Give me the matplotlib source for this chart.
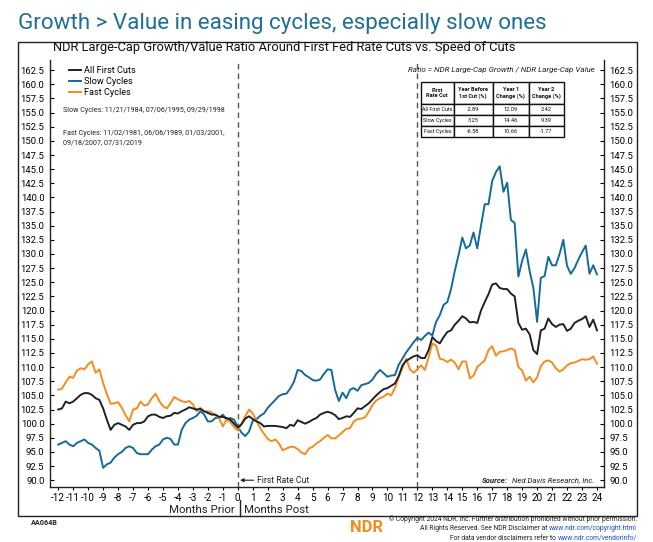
import numpy as np
import matplotlib.pyplot as plt
from matplotlib.patches import Rectangle

plt.rcParams["font.family"] = ["Roboto", "DejaVu Sans"]
plt.rcParams["axes.unicode_minus"] = False

# months around the first cut, one reading every quarter month
months = np.arange(-12, 24.01, 0.25)

all_cuts = [
    102.5, 102.7, 103.9, 103.6, 103.9, 104.5, 105.1, 105.4, 105.4, 105.1, 104.5, 104.2,
    102.7, 100.7, 98.9, 99.8, 100.1, 99.8, 99.5, 98.9, 99.8, 100.1, 100.1, 100.4,
    101.3, 101.6, 101.6, 101.2, 101.0, 101.3, 101.4, 101.9, 101.8, 102.2, 102.5, 102.9,
    102.7, 102.5, 102.6, 102.2, 101.9, 101.6, 101.6, 101.2, 101.2, 101.0, 100.7, 100.0,
    99.3,
    99.9, 100.9, 101.3, 100.8, 100.4, 100.1, 99.5, 99.6, 99.6, 99.6, 99.5, 99.4,
    99.2, 99.8, 99.6, 100.6, 100.3, 100.0, 100.3, 100.7, 101.0, 101.6, 101.9, 102.1,
    101.9, 101.5, 100.8, 101.0, 101.3, 101.2, 101.9, 102.7, 102.6, 103.1, 103.6, 104.3,
    105.0, 105.6, 106.1, 106.3, 106.7, 107.1, 108.4, 110.3, 111.1, 111.5, 111.9, 112.1,
    111.6, 111.6, 113.0, 115.3, 114.6, 114.2, 115.3, 116.2, 116.5, 117.5, 118.2, 119.0,
    118.6, 117.9, 118.0, 117.8, 120.0, 121.5, 122.9, 124.6, 124.8, 124.0, 123.8, 123.8,
    123.0, 122.5, 117.8, 116.6, 116.8, 115.8, 113.0, 112.3, 116.5, 116.8, 118.6, 117.6,
    117.1, 117.5, 117.6, 116.4, 116.8, 117.8, 118.2, 118.5, 119.0, 117.1, 118.4, 116.5,
]

slow = [
    96.3, 96.6, 96.9, 96.3, 96.0, 96.6, 96.9, 97.2, 96.6, 96.3, 95.7, 95.2,
    92.2, 92.8, 93.1, 94.0, 94.6, 95.0, 95.7, 96.0, 95.7, 94.8, 94.6, 94.6,
    94.6, 95.4, 96.0, 96.3, 97.2, 97.5, 97.3, 96.3, 96.3, 98.9, 100.1, 100.7,
    101.0, 101.4, 102.2, 101.6, 100.4, 100.4, 101.0, 101.0, 101.6, 100.7, 101.0, 100.7,
    99.5,
    98.4, 97.8, 98.6, 100.5, 100.8, 101.4, 101.8, 102.8, 103.5, 104.2, 104.9, 105.2,
    105.3, 106.2, 107.4, 109.5, 109.3, 108.6, 108.2, 107.7, 107.6, 107.8, 108.8, 109.6,
    109.5, 106.0, 104.0, 105.5, 104.5, 106.0, 106.3, 105.8, 106.8, 107.0, 107.2, 107.8,
    108.8, 109.5, 108.9, 108.3, 108.5, 108.6, 110.4, 111.5, 112.6, 113.5, 114.4, 115.2,
    114.8, 115.5, 116.1, 115.6, 118.0, 119.2, 121.0, 121.5, 123.8, 127.0, 129.8, 132.9,
    131.0, 131.5, 133.8, 131.0, 135.0, 138.8, 138.8, 142.9, 144.5, 145.5, 141.0, 142.6,
    136.0, 135.5, 126.0, 128.8, 130.8, 127.0, 124.0, 118.0, 125.8, 126.1, 129.5, 128.0,
    128.0, 130.0, 132.5, 127.9, 126.5, 127.5, 129.0, 130.3, 131.5, 126.5, 128.0, 126.4,
]

fast = [
    106.0, 106.2, 107.3, 108.3, 108.1, 109.4, 109.8, 109.6, 110.5, 111.0, 109.0, 109.6,
    107.2, 105.2, 103.5, 103.6, 103.8, 102.8, 101.5, 100.4, 102.5, 102.7, 103.9, 103.2,
    103.4, 104.5, 105.3, 104.0, 103.1, 102.7, 103.6, 104.7, 104.3, 104.0, 103.8, 104.0,
    103.4, 102.2, 102.8, 102.1, 102.2, 102.0, 101.5, 100.9, 99.5, 100.7, 100.3, 99.4,
    98.8,
    100.0, 101.3, 102.5, 101.8, 100.5, 99.2, 98.2, 97.3, 96.9, 97.2, 96.5, 95.3,
    95.6, 95.9, 95.9, 95.5, 94.9, 94.6, 95.6, 95.9, 96.5, 96.9, 97.5, 98.0,
    97.4, 97.4, 97.9, 98.5, 99.1, 99.2, 100.4, 100.8, 100.9, 101.1, 102.1, 103.3,
    104.1, 104.5, 104.8, 105.3, 105.0, 106.3, 108.2, 109.8, 111.5, 109.6, 109.0, 109.6,
    110.3, 109.5, 111.7, 114.2, 113.8, 111.5, 111.3, 110.9, 111.3, 110.8, 109.6, 111.0,
    111.0, 108.0, 108.5, 110.0, 110.6, 111.2, 113.0, 113.7, 112.0, 112.7, 112.8, 113.0,
    113.3, 113.0, 110.0, 109.4, 107.6, 108.3, 107.3, 108.2, 110.2, 111.0, 111.2, 110.8,
    109.8, 109.2, 109.6, 110.3, 110.7, 110.8, 111.1, 111.4, 111.3, 111.4, 111.9, 110.6,
]

series_names = ["All First Cuts", "Slow Cycles", "Fast Cycles"]
series_colors = ["#1e2328", "#17699a", "#f68b1f"]

table_header = ["First\nRate Cut", "Year Before\n1st Cut (%)", "Year 1\nChange (%)", "Year 2\nChange (%)"]
table_rows = [
    ["All First Cuts", "-2.89", "12.09", "2.42"],
    ["Slow Cycles", "3.25", "14.46", "9.39"],
    ["Fast Cycles", "-6.58", "10.66", "-1.77"],
]

y_ticks = np.arange(90, 163, 2.5)
x_ticks = list(range(-12, 25))

fig = plt.figure(figsize=(6.53, 5.42), dpi=100)
W, H = 653, 542
dark = "#222222"

# outer frame
fig.patches.append(Rectangle((18 / W, 1 - 516 / H), 619 / W, 474 / H, transform=fig.transFigure,
                             fill=False, edgecolor=dark, linewidth=1.0))

fig.text(18 / W, 1 - 23 / H, "Growth > Value in easing cycles, especially slow ones",
         fontsize=16.1, color="#1f6e96", va="center", ha="left")
fig.text(53 / W, 1 - 48 / H, "NDR Large-Cap Growth/Value Ratio Around First Fed Rate Cuts vs. Speed of Cuts",
         fontsize=9.3, color="#111111", va="center", ha="left")

ax = fig.add_axes([50 / W, 1 - 487 / H, 554 / W, 427 / H])
for vals, name, col in zip([all_cuts, slow, fast], series_names, series_colors):
    ax.plot(months, vals, color=col, linewidth=1.4, label=name)
ax.lines[0].set_zorder(3)

ax.axvline(0, color="#555555", linewidth=1.0, linestyle=(0, (4, 3)), zorder=1)
ax.axvline(12, color="#555555", linewidth=1.0, linestyle=(0, (4, 3)), zorder=1)

ax.set_xlim(-12.55, 24.47)
ax.set_ylim(88.8, 164.3)
ax.set_yticks(y_ticks)
ax.set_yticklabels([f"{v:.1f}" for v in y_ticks])
ax.set_xticks(x_ticks)
ax.set_xticklabels([str(v) for v in x_ticks])
ax.tick_params(axis="y", direction="in", length=3, width=0.8, labelsize=6.8,
               left=True, right=True, labelleft=True, labelright=True, pad=4)
ax.tick_params(axis="x", direction="out", length=2.5, width=0.8, labelsize=7.2, pad=1.5)
ax.spines["top"].set_visible(False)
for s in ["left", "right", "bottom"]:
    ax.spines[s].set_linewidth(1.0)
    ax.spines[s].set_color(dark)

ax.legend(loc="upper left", bbox_to_anchor=(0.022, 1.0), frameon=False, fontsize=6.6,
          handlelength=1.3, handletextpad=0.4, labelspacing=0.2, borderpad=0.2)

ax.text(0.0235, 0.881, "Slow Cycles: 11/21/1984, 07/06/1995, 09/29/1998",
        transform=ax.transAxes, fontsize=5.15, va="center", ha="left", color=dark)
ax.text(0.0235, 0.817, "Fast Cycles: 11/02/1981, 06/06/1989, 01/03/2001,\n09/18/2007, 07/31/2019",
        transform=ax.transAxes, fontsize=5.15, va="center", ha="left", color=dark, linespacing=1.55)
ax.text(0.983, 0.977, "Ratio = NDR Large-Cap Growth / NDR Large-Cap Value",
        transform=ax.transAxes, fontsize=5.8, style="italic", va="center", ha="right", color=dark)

ax.annotate("First Rate Cut", xy=(0.15, 90), xytext=(1.25, 90), fontsize=6.2, va="center", ha="left",
            color=dark, arrowprops=dict(arrowstyle="-|>", color=dark, lw=0.8,
                                        mutation_scale=5, shrinkA=0, shrinkB=0))
src = ax.text(23.85, 90, "Ned Davis Research, Inc.", fontsize=5.6, style="italic", va="center",
              ha="right", color=dark)
ax.annotate("Source:", xy=(0, 0.5), xycoords=src, xytext=(-3, 0), textcoords="offset points",
            fontsize=5.6, style="italic", weight="bold", va="center", ha="right", color=dark)

# stats table
tbl = ax.table(cellText=table_rows, colLabels=table_header, cellLoc="center",
               bbox=[0.6697, 0.8197, 0.2582, 0.1288])
tbl.auto_set_font_size(False)
col_w = [41, 49, 46, 44]
for (r, c), cell in tbl.get_celld().items():
    cell.set_width(col_w[c])
    cell.set_height(2.0 if r == 0 else 1.0)
    cell.set_linewidth(1.0)
    cell.set_edgecolor("#111111")
    cell.get_text().set_fontsize(3.9 if c == 0 and r > 0 else 4.1)
    cell.get_text().set_color("#111111")
    if r == 0:
        cell.get_text().set_fontweight("bold")
    if c == 0 and r > 0:
        cell._loc = "left"
        cell.PAD = 0.05

# months prior | months post
fig.text(235 / W, 1 - 510 / H, "Months Prior", fontsize=8.2, ha="right", va="center", color=dark)
fig.text(244 / W, 1 - 510 / H, "Months Post", fontsize=8.2, ha="left", va="center", color=dark)
fig.add_artist(plt.Line2D([239.5 / W, 239.5 / W], [1 - 500 / H, 1 - 516 / H], color=dark,
                          linewidth=1.0, transform=fig.transFigure))

# footer
fig.text(31 / W, 1 - 523 / H, "AA064B", fontsize=5.2, weight="bold", ha="left", va="center", color=dark)
fig.text(350 / W, 1 - 528 / H, "NDR", fontsize=12, weight="bold", ha="left", va="center", color="#f68b1f")
link = "#1f4fd0"
fig.text(637 / W, 1 - 519 / H,
         "\u00a9 Copyright 2024 NDR, Inc. Further distribution prohibited without prior permission.",
         fontsize=4.9, ha="right", va="center", color=dark)
l1 = fig.text(637 / W, 1 - 529 / H, "www.ndr.com/copyright.html", fontsize=4.9, ha="right",
              va="center", color=link)
ax.annotate("All Rights Reserved. See NDR Disclaimer at", xy=(0, 0.5), xycoords=l1, xytext=(-1.5, 0),
            textcoords="offset points", fontsize=4.9, ha="right", va="center", color=dark,
            annotation_clip=False)
l2 = fig.text(637 / W, 1 - 539 / H, "www.ndr.com/vendorinfo/", fontsize=4.9, ha="right",
              va="center", color=link)
ax.annotate("For data vendor disclaimers refer to", xy=(0, 0.5), xycoords=l2, xytext=(-1.5, 0),
            textcoords="offset points", fontsize=4.9, ha="right", va="center", color=dark,
            annotation_clip=False)

fig.savefig("out.png", dpi=100)
